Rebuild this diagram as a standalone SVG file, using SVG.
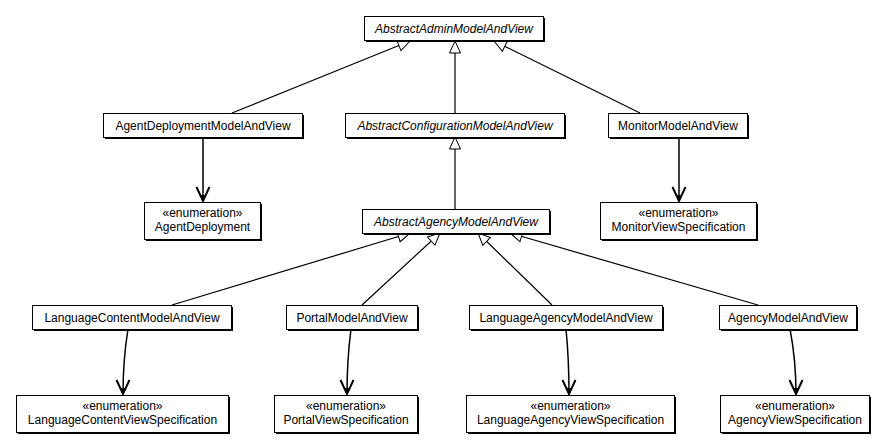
<svg xmlns="http://www.w3.org/2000/svg" width="888" height="443" viewBox="0 0 888 443">
<defs>
<style>
.box{fill:#fff;stroke:#000;stroke-width:1}
.sh{fill:#000}
.t{font-family:"Liberation Sans",Arial,sans-serif;font-size:12px;fill:#000;text-anchor:middle}
.i{font-style:italic}
.ln{fill:none;stroke:#000;stroke-width:1.2}
.tri{fill:#fff;stroke:#000;stroke-width:1}
.dep{fill:none;stroke:#000;stroke-width:1.5}
</style>
<marker id="gen" viewBox="0 0 14 14" refX="13" refY="7" markerWidth="14" markerHeight="14" markerUnits="userSpaceOnUse" orient="auto">
<path d="M13 7 L1 1.5 L1 12.5 Z" class="tri"/>
</marker>
<marker id="nav" viewBox="0 0 16 16" refX="15" refY="8" markerWidth="16" markerHeight="16" markerUnits="userSpaceOnUse" orient="auto">
<path d="M1 1.5 L15 8 L1 14.5" fill="none" stroke="#000" stroke-width="2"/>
<path d="M9 5 L15 8 L9 11 Z" fill="#000"/>
</marker>
</defs>
<rect width="888" height="443" fill="#fff"/>
<g id="connectors">
<path class="ln" marker-end="url(#gen)" d="M232 113 L410 41"/>
<path class="ln" marker-end="url(#gen)" d="M455 113 L455 41"/>
<path class="ln" marker-end="url(#gen)" d="M640 113 L494 41"/>
<path class="ln" marker-end="url(#gen)" d="M455 209 L455 137"/>
<path class="ln" marker-end="url(#gen)" d="M172 305 L410 233"/>
<path class="ln" marker-end="url(#gen)" d="M362 305 L440 233"/>
<path class="ln" marker-end="url(#gen)" d="M552 305 L478 233"/>
<path class="ln" marker-end="url(#gen)" d="M758 305 L510 233"/>
<path class="dep" marker-end="url(#nav)" d="M203 137 L203 201"/>
<path class="dep" marker-end="url(#nav)" d="M679 137 L679 201"/>
<path class="dep" marker-end="url(#nav)" d="M128 329 Q123 360 123 394"/>
<path class="dep" marker-end="url(#nav)" d="M351 329 Q347 360 347 394"/>
<path class="dep" marker-end="url(#nav)" d="M566 329 Q569 360 569 394"/>
<path class="dep" marker-end="url(#nav)" d="M790 329 Q796 360 796 394"/>
</g>
<g id="AbstractAdminModelAndView">
<rect class="sh" x="366" y="18" width="179" height="24"/>
<rect class="box" x="364.5" y="16.5" width="179" height="24"/>
<text class="t i" x="454" y="32.5">AbstractAdminModelAndView</text>
</g>
<g id="AgentDeploymentModelAndView">
<rect class="sh" x="105" y="115" width="199" height="24"/>
<rect class="box" x="103.5" y="113.5" width="199" height="24"/>
<text class="t" x="203" y="129.5">AgentDeploymentModelAndView</text>
</g>
<g id="AbstractConfigurationModelAndView">
<rect class="sh" x="347" y="115" width="219" height="24"/>
<rect class="box" x="345.5" y="113.5" width="219" height="24"/>
<text class="t i" x="455" y="129.5">AbstractConfigurationModelAndView</text>
</g>
<g id="MonitorModelAndView">
<rect class="sh" x="610" y="115" width="139" height="24"/>
<rect class="box" x="608.5" y="113.5" width="139" height="24"/>
<text class="t" x="678" y="129.5">MonitorModelAndView</text>
</g>
<g id="AgentDeployment">
<rect class="sh" x="146" y="204" width="116" height="37"/>
<rect class="box" x="144.5" y="202.5" width="116" height="37"/>
<text class="t" x="202.5" y="217">«enumeration»</text>
<text class="t" x="202.5" y="231">AgentDeployment</text>
</g>
<g id="MonitorViewSpecification">
<rect class="sh" x="602" y="204" width="156" height="37"/>
<rect class="box" x="600.5" y="202.5" width="156" height="37"/>
<text class="t" x="678.5" y="217">«enumeration»</text>
<text class="t" x="678.5" y="231">MonitorViewSpecification</text>
</g>
<g id="AbstractAgencyModelAndView">
<rect class="sh" x="364" y="211" width="187" height="24"/>
<rect class="box" x="362.5" y="209.5" width="187" height="24"/>
<text class="t i" x="456" y="225.5">AbstractAgencyModelAndView</text>
</g>
<g id="LanguageContentModelAndView">
<rect class="sh" x="34" y="307" width="199" height="24"/>
<rect class="box" x="32.5" y="305.5" width="199" height="24"/>
<text class="t" x="132" y="321.5">LanguageContentModelAndView</text>
</g>
<g id="PortalModelAndView">
<rect class="sh" x="288" y="307" width="131" height="24"/>
<rect class="box" x="286.5" y="305.5" width="131" height="24"/>
<text class="t" x="352" y="321.5">PortalModelAndView</text>
</g>
<g id="LanguageAgencyModelAndView">
<rect class="sh" x="471" y="307" width="193" height="24"/>
<rect class="box" x="469.5" y="305.5" width="193" height="24"/>
<text class="t" x="566" y="321.5">LanguageAgencyModelAndView</text>
</g>
<g id="AgencyModelAndView">
<rect class="sh" x="721" y="307" width="137" height="24"/>
<rect class="box" x="719.5" y="305.5" width="137" height="24"/>
<text class="t" x="788" y="321.5">AgencyModelAndView</text>
</g>
<g id="LanguageContentViewSpecification">
<rect class="sh" x="18" y="397" width="212" height="37"/>
<rect class="box" x="16.5" y="395.5" width="212" height="37"/>
<text class="t" x="122.5" y="410">«enumeration»</text>
<text class="t" x="122.5" y="424">LanguageContentViewSpecification</text>
</g>
<g id="PortalViewSpecification">
<rect class="sh" x="276" y="397" width="143" height="37"/>
<rect class="box" x="274.5" y="395.5" width="143" height="37"/>
<text class="t" x="346" y="410">«enumeration»</text>
<text class="t" x="346" y="424">PortalViewSpecification</text>
</g>
<g id="LanguageAgencyViewSpecification">
<rect class="sh" x="468" y="397" width="208" height="37"/>
<rect class="box" x="466.5" y="395.5" width="208" height="37"/>
<text class="t" x="570.5" y="410">«enumeration»</text>
<text class="t" x="570.5" y="424">LanguageAgencyViewSpecification</text>
</g>
<g id="AgencyViewSpecification">
<rect class="sh" x="722" y="397" width="149" height="37"/>
<rect class="box" x="720.5" y="395.5" width="149" height="37"/>
<text class="t" x="795" y="410">«enumeration»</text>
<text class="t" x="795" y="424">AgencyViewSpecification</text>
</g>
</svg>
